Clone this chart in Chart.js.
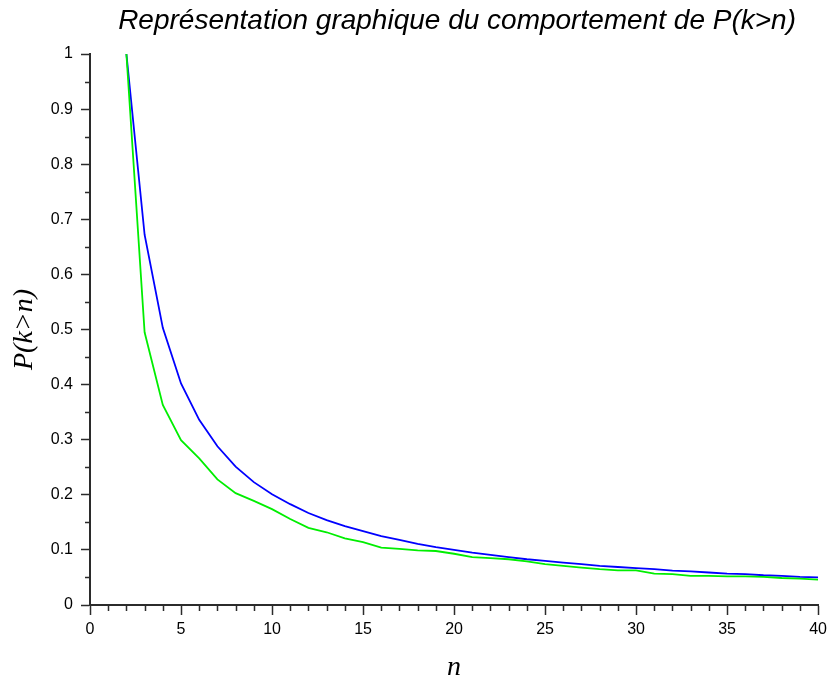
<!DOCTYPE html>
<html>
<head>
<meta charset="utf-8">
<script src="https://cdn.jsdelivr.net/npm/chart.js@4.4.0/dist/chart.umd.min.js"></script>
<style>
  body { margin: 0; background: #fff; }
  #wrap { width: 832px; height: 684px; }
</style>
</head>
<body>
<div id="wrap"><canvas id="chart" width="832" height="684"></canvas></div>
<script>
// n values (x axis)
const nValues = [2, 3, 4, 5, 6, 7, 8, 9, 10, 11, 12, 13, 14, 15, 16, 17, 18, 19, 20, 21,
  22, 23, 24, 25, 26, 27, 28, 29, 30, 31, 32, 33, 34, 35, 36, 37, 38, 39, 40];

// theoretical curve (blue)
const blueValues = [1, 0.672, 0.503, 0.402, 0.336, 0.288, 0.251, 0.223, 0.201, 0.183,
  0.167, 0.154, 0.143, 0.134, 0.125, 0.118, 0.111, 0.105, 0.1, 0.095,
  0.091, 0.087, 0.083, 0.08, 0.077, 0.074, 0.071, 0.069, 0.067, 0.065,
  0.0625, 0.061, 0.059, 0.057, 0.056, 0.054, 0.053, 0.051, 0.05];

// simulated curve (green)
const greenValues = [1, 0.495, 0.363, 0.299, 0.266, 0.228, 0.203, 0.189, 0.174, 0.156,
  0.14, 0.132, 0.121, 0.114, 0.104, 0.102, 0.099, 0.098, 0.093, 0.087,
  0.085, 0.083, 0.079, 0.074, 0.071, 0.068, 0.065, 0.063, 0.063, 0.057,
  0.056, 0.053, 0.053, 0.052, 0.052, 0.051, 0.049, 0.048, 0.046];

const xMin = 0, xMax = 40, xStep = 5;
const yMin = 0, yMax = 1, yStep = 0.1;

const titleText = "Représentation graphique du comportement de P(k>n)";
const axisColor = "#2b2b2b";
const sans = "'Liberation Sans', Arial, sans-serif";
const serif = "'Liberation Serif', 'Times New Roman', serif";

// title over the plot area, plus the minor ticks that Chart.js lacks
const extras = {
  id: "extras",
  afterDraw(chart) {
    const ctx = chart.ctx;
    const area = chart.chartArea;
    const xs = chart.scales.x;
    const ys = chart.scales.y;

    ctx.save();
    ctx.fillStyle = "#000";
    ctx.font = "italic 28px " + sans;
    ctx.textAlign = "center";
    ctx.textBaseline = "alphabetic";
    ctx.fillText(titleText, (area.left + area.right) / 2 + 3, 29);

    ctx.strokeStyle = axisColor;
    ctx.lineWidth = 1.5;
    ctx.beginPath();
    for (let v = xMin; v <= xMax; v += 1) {
      if (v % xStep === 0) continue;
      const px = Math.round(xs.getPixelForValue(v)) + 0.5;
      ctx.moveTo(px, area.bottom);
      ctx.lineTo(px, area.bottom + 6);
    }
    for (let i = 1; i < 20; i += 2) {
      const py = Math.round(ys.getPixelForValue(i * yStep / 2)) + 0.5;
      ctx.moveTo(area.left, py);
      ctx.lineTo(area.left - 5, py);
    }
    ctx.stroke();
    ctx.restore();
  }
};

new Chart(document.getElementById("chart"), {
  type: "line",
  data: {
    labels: nValues,
    datasets: [
      {
        label: "simulation",
        data: nValues.map((n, i) => ({ x: n, y: greenValues[i] })),
        borderColor: "#00ee00",
        borderWidth: 1.8,
        pointRadius: 0,
        tension: 0,
      },
      {
        label: "2/n",
        data: nValues.map((n, i) => ({ x: n, y: blueValues[i] })),
        borderColor: "#0000ff",
        borderWidth: 1.8,
        pointRadius: 0,
        tension: 0,
      },
    ],
  },
  options: {
    responsive: false,
    animation: false,
    layout: { padding: { top: 54, right: 12, left: 0, bottom: 0 } },
    plugins: {
      legend: { display: false },
      tooltip: { enabled: false },
    },
    scales: {
      x: {
        type: "linear",
        min: xMin,
        max: xMax,
        afterFit: (scale) => { scale.height = 79; },
        border: { display: true, color: axisColor, width: 2 },
        grid: { drawOnChartArea: false, drawTicks: true, tickLength: 10, tickColor: axisColor, tickWidth: 1.5 },
        ticks: {
          stepSize: xStep,
          color: "#000",
          padding: 5,
          font: { family: sans, size: 16 },
        },
        title: {
          display: true,
          text: "n",
          color: "#000",
          padding: { top: 0, bottom: 0 },
          font: { family: serif, size: 28, style: "italic" },
        },
      },
      y: {
        type: "linear",
        min: yMin,
        max: yMax,
        afterFit: (scale) => { scale.width = 90; },
        border: { display: true, color: axisColor, width: 2 },
        grid: { drawOnChartArea: false, drawTicks: true, tickLength: 9, tickColor: axisColor, tickWidth: 1.5 },
        ticks: {
          stepSize: yStep,
          color: "#000",
          padding: 8,
          font: { family: sans, size: 16 },
          callback: (v) => String(Math.round(v * 10) / 10),
        },
        title: {
          display: true,
          text: "P(k>n)",
          color: "#000",
          padding: { top: 8, bottom: 0 },
          font: { family: serif, size: 28, style: "italic" },
        },
      },
    },
  },
  plugins: [extras],
});
</script>
</body>
</html>
